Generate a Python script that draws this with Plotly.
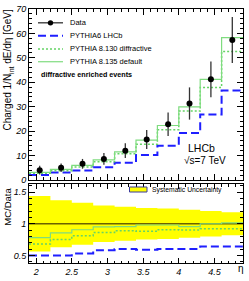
import plotly.graph_objects as go

# ---- data ----
eta_edges = [1.9, 2.2, 2.5, 2.8, 3.1, 3.4, 3.7, 4.0, 4.3, 4.6, 4.9]
eta_centers = [2.05, 2.35, 2.65, 2.95, 3.25, 3.55, 3.85, 4.15, 4.45, 4.75]
data_vals = [4.0, 5.0, 6.6, 8.6, 12.0, 16.6, 22.8, 31.3, 41.2, 57.3]
data_errs = [1.8, 1.7, 2.0, 2.4, 3.0, 3.9, 4.8, 6.6, 7.3, 9.4]
pythia6_lhcb = [2.0, 3.0, 3.9, 5.2, 7.0, 10.2, 14.0, 19.2, 26.8, 36.6]
pythia8130_diff = [2.7, 3.75, 5.35, 7.4, 10.7, 14.6, 20.6, 28.2, 37.9, 52.6]
pythia8135_def = [3.1, 4.3, 6.0, 8.2, 11.5, 16.3, 22.3, 29.9, 41.2, 58.3]
ratio_p6 = [0.50, 0.50, 0.53, 0.58, 0.60, 0.59, 0.60, 0.60, 0.64, 0.64]
ratio_p8130 = [0.68, 0.75, 0.81, 0.86, 0.89, 0.88, 0.905, 0.90, 0.92, 0.92]
ratio_p8135 = [0.78, 0.855, 0.905, 0.95, 0.955, 0.98, 0.98, 0.955, 1.0, 1.015]
syst_halfwidth = [0.44, 0.37, 0.33, 0.29, 0.27, 0.25, 0.24, 0.22, 0.20, 0.18]

legend_labels = ["Data", "PYTHIA6 LHCb", "PYTHIA 8.130 diffractive", "PYTHIA 8.135 default"]
band_label = "Systematic Uncertainty"

FONT = "Liberation Sans, Arial, sans-serif"
BLUE = "#1f1fff"
GREEN = "#7fdc7f"
GREEN_DOT = "#66d466"
P6_LINE = dict(color=BLUE, width=2, dash="8px,4px")
P8130_LINE = dict(color=GREEN_DOT, width=1.5, dash="2px,2px")
P8135_LINE = dict(color=GREEN, width=1.2)

# pixel -> paper helpers (plot area: x 29..243, y 4..267)
L, R, T, B = 29, 243, 4, 267


def px(x):
    return (x - L) / (R - L)


def py(y):
    return (B - y) / (B - T)


def step(vals):
    return list(vals) + [vals[-1]]


fig = go.Figure()

# ---- top panel ----
fig.add_trace(go.Scatter(
    x=eta_edges, y=step(pythia6_lhcb), mode="lines", line_shape="hv", name=legend_labels[1],
    line=P6_LINE, xaxis="x", yaxis="y"))
fig.add_trace(go.Scatter(
    x=eta_edges, y=step(pythia8130_diff), mode="lines", line_shape="hv", name=legend_labels[2],
    line=P8130_LINE, xaxis="x", yaxis="y"))
fig.add_trace(go.Scatter(
    x=eta_edges, y=step(pythia8135_def), mode="lines", line_shape="hv", name=legend_labels[3],
    line=P8135_LINE, xaxis="x", yaxis="y"))
fig.add_trace(go.Scatter(
    x=eta_centers, y=data_vals, mode="markers", name=legend_labels[0],
    marker=dict(color="black", size=6, symbol="circle"),
    error_y=dict(type="data", array=data_errs, color="#333333", thickness=1.3, width=0),
    xaxis="x", yaxis="y"))

# ---- bottom panel ----
band_lo = [1 - h for h in syst_halfwidth]
band_hi = [1 + h for h in syst_halfwidth]
fig.add_trace(go.Scatter(
    x=eta_edges, y=step(band_lo), mode="lines", line_shape="hv",
    line=dict(width=0, color="yellow"), hoverinfo="skip",
    xaxis="x2", yaxis="y2"))
fig.add_trace(go.Scatter(
    x=eta_edges, y=step(band_hi), mode="lines", line_shape="hv", fill="tonexty",
    fillcolor="#ffff00", line=dict(width=0, color="yellow"), name=band_label,
    xaxis="x2", yaxis="y2"))
fig.add_trace(go.Scatter(
    x=[eta_edges[0], eta_edges[-1]], y=[1, 1], mode="lines",
    line=dict(color="#6b6200", width=1.6), xaxis="x2", yaxis="y2"))
fig.add_trace(go.Scatter(
    x=eta_edges, y=step(ratio_p6), mode="lines", line_shape="hv",
    line=P6_LINE, xaxis="x2", yaxis="y2"))
fig.add_trace(go.Scatter(
    x=eta_edges, y=step(ratio_p8130), mode="lines", line_shape="hv",
    line=P8130_LINE, xaxis="x2", yaxis="y2"))
fig.add_trace(go.Scatter(
    x=eta_edges, y=step(ratio_p8135), mode="lines", line_shape="hv",
    line=P8135_LINE, xaxis="x2", yaxis="y2"))

tickfont = dict(family=FONT, size=9, color="black", style="italic")
common_axis = dict(showline=True, linecolor="black", linewidth=1, mirror="allticks",
                   ticks="inside", showgrid=False, zeroline=False, tickcolor="black",
                   tickfont=tickfont)

# ---- legend (drawn in ROOT style) ----
shapes = []
annotations = []
leg_y = [18.3, 31.8, 45.3, 58.6]
leg_styles = [dict(color="#333333", width=1.3), P6_LINE, P8130_LINE, P8135_LINE]
for lab, yy, st in zip(legend_labels, leg_y, leg_styles):
    shapes.append(dict(type="line", xref="paper", yref="paper", x0=px(38), x1=px(63),
                       y0=py(yy), y1=py(yy), line=st))
    annotations.append(dict(text=lab, xref="paper", yref="paper", x=px(67.5), y=py(yy),
                            xanchor="left", yanchor="middle", showarrow=False,
                            font=dict(family=FONT, size=7.5, color="black")))
shapes.append(dict(type="circle", xref="paper", yref="paper", x0=px(47.8), x1=px(53.2),
                   y0=py(leg_y[0] + 2.7), y1=py(leg_y[0] - 2.7),
                   fillcolor="black", line=dict(color="black", width=0)))
# systematic uncertainty legend
shapes.append(dict(type="rect", xref="paper", yref="paper", x0=px(129.5), x1=px(147),
                   y0=py(193.5), y1=py(188.3), fillcolor="#ffff00",
                   line=dict(color="#3a3a9a", width=1)))
annotations.append(dict(text=band_label, xref="paper", yref="paper", x=px(149.5), y=py(191),
                        xanchor="left", yanchor="middle", showarrow=False,
                        font=dict(family=FONT, size=6.8, color="black")))

annotations += [
    dict(text="<b>diffractive enriched events</b>", xref="paper", yref="paper",
         x=px(38.5), y=py(71.5), xanchor="left", yanchor="middle",
         showarrow=False, font=dict(family=FONT, size=7.2, color="black")),
    dict(text="LHCb", xref="paper", yref="paper", x=px(201), y=py(148),
         xanchor="center", yanchor="middle", showarrow=False,
         font=dict(family=FONT, size=10.5, color="black")),
    dict(text="√s=7 TeV", xref="paper", yref="paper", x=px(205), y=py(161),
         xanchor="center", yanchor="middle", showarrow=False,
         font=dict(family=FONT, size=10, color="black")),
    dict(text="Charged 1/N<sub>int</sub> dE/dη [GeV]", xref="paper", yref="paper",
         x=px(8), y=py(1.5), xanchor="center", yanchor="top", textangle=-90,
         showarrow=False, font=dict(family=FONT, size=10, color="black")),
    dict(text="MC/Data", xref="paper", yref="paper",
         x=px(8), y=py(187), xanchor="center", yanchor="top", textangle=-90,
         showarrow=False, font=dict(family=FONT, size=9.5, color="black")),
    dict(text="η", xref="paper", yref="paper",
         x=px(240.5), y=py(273), xanchor="center", yanchor="middle",
         showarrow=False, font=dict(family=FONT, size=10, color="black")),
]

fig.update_layout(
    width=249, height=281,
    margin=dict(l=L, r=249 - R, t=T, b=281 - B),
    paper_bgcolor="white", plot_bgcolor="white",
    font=dict(family=FONT, color="black"),
    showlegend=False,
    xaxis=dict(domain=[0, 1], range=[1.9, 4.9], anchor="y", matches="x2",
               showticklabels=False, dtick=0.5, tick0=0, ticklen=6,
               minor=dict(dtick=0.1, ticklen=3, ticks="inside", tickcolor="black"),
               **common_axis),
    yaxis=dict(domain=[py(181), 1], range=[0, 70], anchor="x", dtick=10, ticklen=6,
               minor=dict(dtick=2, ticklen=3, ticks="inside", tickcolor="black"),
               **common_axis),
    xaxis2=dict(domain=[0, 1], range=[1.9, 4.9], anchor="y2", dtick=0.5, tick0=0,
                ticklen=5,
                minor=dict(dtick=0.1, ticklen=2.5, ticks="inside", tickcolor="black"),
                **common_axis),
    yaxis2=dict(domain=[0, py(185.7)], range=[0.38, 1.62], anchor="x2", dtick=0.5, tick0=0,
                ticklen=6, minor=dict(dtick=0.1, ticklen=3, ticks="inside", tickcolor="black"),
                **common_axis),
    shapes=shapes,
    annotations=annotations,
)

fig.write_html("out.html", config={"displayModeBar": False},
               post_script="document.body.style.margin='0px';document.body.style.overflow='hidden';")
